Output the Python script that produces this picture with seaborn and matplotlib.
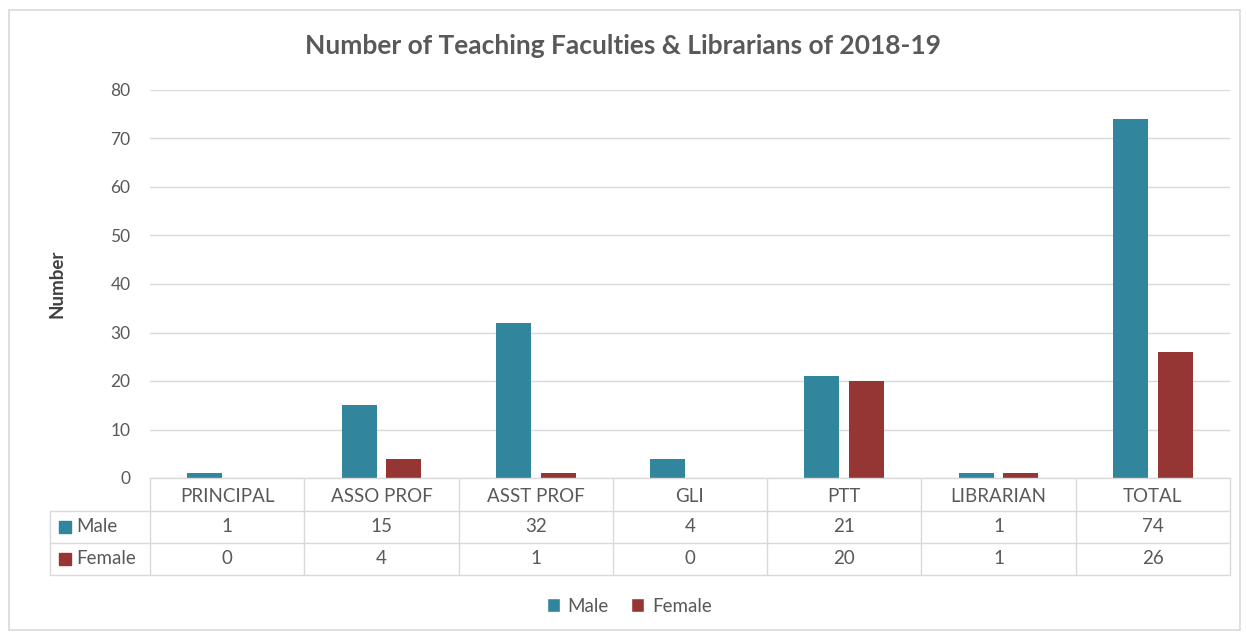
import matplotlib
matplotlib.use("Agg")
import matplotlib.pyplot as plt
import matplotlib.transforms as mtransforms
from matplotlib.patches import Patch, Rectangle
import seaborn as sns
import pandas as pd

categories = ["PRINCIPAL", "ASSO PROF", "ASST PROF", "GLI", "PTT", "LIBRARIAN", "TOTAL"]
male = [1, 15, 32, 4, 21, 1, 74]
female = [0, 4, 1, 0, 20, 1, 26]
series_names = ["Male", "Female"]
yticks = [0, 10, 20, 30, 40, 50, 60, 70, 80]

TEAL = "#31859C"
RED = "#963634"
TXT = "#595959"
GRID = "#D9D9D9"

df = pd.DataFrame({
    "Category": categories * 2,
    "Number": male + female,
    "Gender": [series_names[0]] * len(categories) + [series_names[1]] * len(categories),
})

sns.set_theme(style="white")
plt.rcParams["font.family"] = ["Lato", "DejaVu Sans"]

W, H = 1246, 634
fig = plt.figure(figsize=(W / 100, H / 100), dpi=100)
fig.patch.set_facecolor("white")
fig.add_artist(Rectangle((9 / W, 4 / H), (1240 - 9) / W, (624 - 4) / H,
                         transform=fig.transFigure, fill=False, edgecolor=GRID, lw=1.2))

ax_l, ax_r, ax_t, ax_b = 150, 1230, 90, 478
ax = fig.add_axes([ax_l / W, 1 - ax_b / H, (ax_r - ax_l) / W, (ax_b - ax_t) / H])

sns.barplot(data=df, x="Category", y="Number", hue="Gender", order=categories,
            hue_order=series_names, palette=[TEAL, RED], width=0.58, gap=0.22,
            saturation=1, linewidth=0, ax=ax, legend=False)

ax.set_xlim(-0.5, len(categories) - 0.5)
ax.set_ylim(0, 80)
ax.set_yticks(yticks)
ax.yaxis.grid(True, color=GRID, lw=1)
ax.set_axisbelow(True)
for s in ax.spines.values():
    s.set_visible(False)
ax.tick_params(axis="y", length=0, pad=14, labelsize=12.5, labelcolor=TXT)
ax.tick_params(axis="x", length=0, pad=7, labelsize=13.5, labelcolor=TXT)
ax.set_xlabel("")
ax.set_ylabel("Number", fontsize=13.5, fontweight="bold", color="#404040")
ax.yaxis.set_label_coords(-0.078, 0.5)

fig.text(0.5, 1 - 46 / H, "Number of Teaching Faculties & Librarians of 2018-19",
         ha="center", va="center", fontsize=19, fontweight="bold", color=TXT)

# data table below the axis
tr = mtransforms.blended_transform_factory(ax.transData, ax.transAxes)
ah = ax_b - ax_t
cw = (ax_r - ax_l) / len(categories)
def yf(px):
    return -(px - ax_b) / ah
def xf(px):
    return -0.5 + (px - ax_l) / cw

lk = dict(color=GRID, lw=1, transform=tr, clip_on=False)
n = len(categories)
ax.plot([-0.5, n - 0.5], [0, 0], **lk)
for ypx in (511, 543, 575):
    ax.plot([xf(50), n - 0.5], [yf(ypx)] * 2, **lk)
for i in range(n + 1):
    ax.plot([i - 0.5] * 2, [0, yf(575)], **lk)
ax.plot([xf(50)] * 2, [yf(511), yf(575)], **lk)

for row_y, vals, name, col in ((yf(527), male, series_names[0], TEAL),
                               (yf(559), female, series_names[1], RED)):
    for i, v in enumerate(vals):
        ax.text(i, row_y, str(v), ha="center", va="center", fontsize=13.5,
                color=TXT, transform=tr, clip_on=False)
    ax.plot([xf(65)], [row_y], marker="s", ms=8, color=col, transform=tr, clip_on=False)
    ax.text(xf(76), row_y, name, ha="left", va="center", fontsize=13.5,
            color=TXT, transform=tr, clip_on=False)

handles = [Patch(facecolor=TEAL, label=series_names[0]),
           Patch(facecolor=RED, label=series_names[1])]
leg = fig.legend(handles=handles, loc="center", bbox_to_anchor=(0.505, 1 - 606 / H),
                 ncol=2, frameon=False, fontsize=13.5, handlelength=0.7,
                 handleheight=0.7, handletextpad=0.4, columnspacing=1.2)
for t in leg.get_texts():
    t.set_color(TXT)

fig.savefig("out.png", dpi=100)
